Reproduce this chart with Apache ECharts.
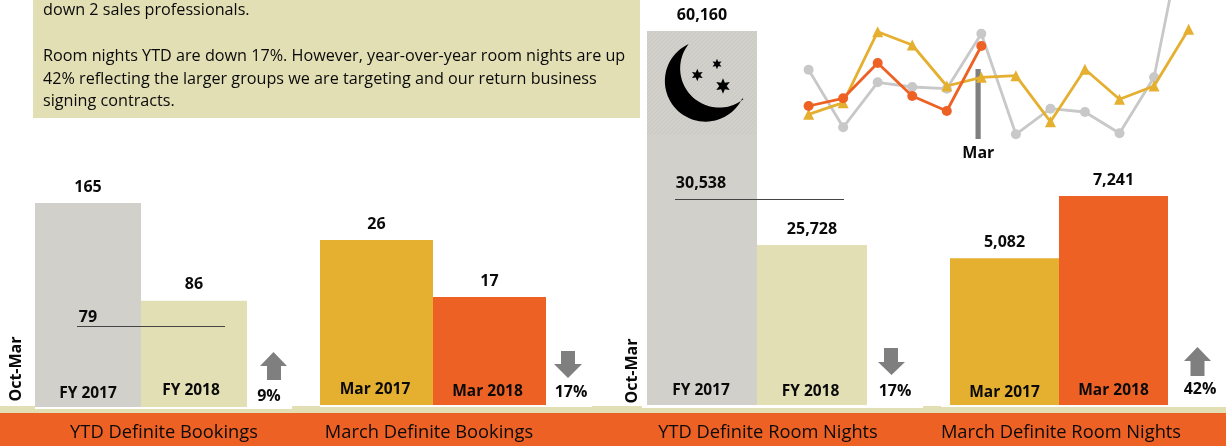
<!DOCTYPE html>
<html><head><meta charset="utf-8">
<style>html,body{margin:0;padding:0;background:#fff}#c{width:1226px;height:446px}</style>
<script src="https://cdn.jsdelivr.net/npm/echarts@6/dist/echarts.min.js"></script>
</head><body><div id="c"></div>
<script>
// ---- data ----
const ytdBookingCats = ['FY 2017','FY 2018'];
const ytdBookingVals = [165,86];
const marBookingCats = ['Mar 2017','Mar 2018'];
const marBookingVals = [26,17];
const ytdNightCats = ['FY 2017','FY 2018'];
const ytdNightVals = [60160,25728];
const marNightCats = ['Mar 2017','Mar 2018'];
const marNightVals = [5082,7241];
const months = ['Oct','Nov','Dec','Jan','Feb','Mar','Apr','May','Jun','Jul','Aug','Sep'];
const nightsFY16 = [5606,1631,4736,4412,4295,8090,1148,2915,2687,1217,5082,16970];
const nightsFY17 = [2528,3329,8228,7310,4481,5082,5192,2018,5633,3563,4481,8393];
const nightsFY18 = [3101,3632,6068,3791,2756,7241];
const footerTitles = ['YTD Definite Bookings','March Definite Bookings','YTD Definite Room Nights','March Definite Room Nights'];
const noteLines = ['down 2 sales professionals.','Room nights YTD are down 17%. However, year-over-year room nights are up','42% reflecting the larger groups we are targeting and our return business','signing contracts.'];
const changeLabels = ['9%','17%','17%','42%'];
const refLabels = ['79','30,538'];

// ---- style ----
const GRAY='#d1d0cb', CREAM='#e2dfb5', GOLD='#e5af30', ORANGE='#ee6125', ARROW='#7f7f7f', INK='#0a0a0a';
const FONT='"Open Sans", sans-serif';
const panels = [
 {cats:ytdBookingCats, vals:ytdBookingVals, colors:[GRAY,CREAM], left:35, width:212, top:203, bottom:407, margin:5, lift:[0,3], nudge:[0,6]},
 {cats:marBookingCats, vals:marBookingVals, colors:[GOLD,ORANGE], left:320, width:226, top:240, bottom:405, margin:5, lift:[2,0], nudge:[3,4]},
 {cats:ytdNightCats, vals:ytdNightVals, colors:[GRAY,CREAM], left:647, width:220, top:31, bottom:405, margin:5, lift:[1,0], nudge:[2,3]},
 {cats:marNightCats, vals:marNightVals, colors:[GOLD,ORANGE], left:950, width:218, top:196, bottom:405, margin:4, lift:[0,2], nudge:[0,0]}
];
const grids=[],xAxes=[],yAxes=[],series=[];
panels.forEach((p,i)=>{
  grids.push({left:p.left,width:p.width,top:p.top,height:p.bottom-p.top,outerBoundsMode:'none'});
  const tag=k=>({padding:[0,p.nudge[k],p.lift[k],0],fontFamily:FONT,fontWeight:'bold',fontSize:15.5,color:INK});
  xAxes.push({type:'category',gridIndex:i,data:p.cats,axisLine:{show:false},axisTick:{show:false},
    axisLabel:{inside:true,margin:p.margin,interval:0,color:INK,fontFamily:FONT,fontWeight:'bold',fontSize:15.5,
      formatter:(v,idx)=>'{l'+idx+'|'+v+'}',rich:{l0:tag(0),l1:tag(1)}},z:5});
  yAxes.push({type:'value',gridIndex:i,min:0,max:Math.max(...p.vals),show:false,splitLine:{show:false}});
  series.push({type:'bar',xAxisIndex:i,yAxisIndex:i,barWidth:'100%',silent:true,
    data:p.vals.map((v,k)=>({value:v,itemStyle:{color:p.colors[k]}})),
    label:{show:true,position:'top',distance:8,color:INK,fontFamily:FONT,fontWeight:'bold',fontSize:16,
      formatter:o=>o.value.toLocaleString('en-US')}});
});
// line chart
const LI=panels.length;
grids.push({left:808.6,width:380,top:-100,height:240,outerBoundsMode:'none'});
xAxes.push({type:'category',gridIndex:LI,data:months,boundaryGap:false,axisLine:{show:false},axisTick:{show:false},
  axisLabel:{margin:5,color:INK,fontFamily:FONT,fontWeight:'bold',fontSize:16,padding:[0,6,0,0],
    interval:(i,v)=>v==='Mar',showMinLabel:false,showMaxLabel:false}});
yAxes.push({type:'value',gridIndex:LI,min:755,max:17315,show:false,splitLine:{show:false}});
const lineSer=(d,c,sym,size,z)=>({type:'line',xAxisIndex:LI,yAxisIndex:LI,data:d,symbol:sym,symbolSize:size,z,silent:true,
  lineStyle:{color:c,width:2.8},itemStyle:{color:c},clip:true});
series.push(lineSer(nightsFY16,'#c8c8c8','circle',10,3));
series.push(lineSer(nightsFY17,GOLD,'triangle',11,4));
series.push(lineSer(nightsFY18,ORANGE,'circle',10,5));

// ---- annotations ----
const rect=(x,y,w,h,fill,z)=>({type:'rect',shape:{x,y,width:w,height:h},style:{fill},z:z||0,silent:true});
const txt=(x,y,t,o)=>({type:'text',x,y,z:20,silent:true,style:Object.assign({text:t,fill:INK,font:'16px '+FONT,textAlign:'center',textVerticalAlign:'middle'},o||{})});
const arrowUp=(l,r,sl,sr,t,hb,b)=>({type:'polygon',z:20,silent:true,shape:{points:[[(l+r)/2,t],[r,hb],[sr,hb],[sr,b],[sl,b],[sl,hb],[l,hb]]},style:{fill:ARROW}});
const arrowDn=(l,r,sl,sr,t,hb,b)=>({type:'polygon',z:20,silent:true,shape:{points:[[(l+r)/2,b],[r,hb],[sr,hb],[sr,t],[sl,t],[sl,hb],[l,hb]]},style:{fill:ARROW}});
const star=(cx,cy,R,r0)=>{const pts=[];for(let i=0;i<12;i++){const a=-Math.PI/2+i*Math.PI/6,q=i%2?r0:R;pts.push([cx+q*Math.cos(a),cy+q*Math.sin(a)]);}
  return {type:'polygon',z:21,silent:true,shape:{points:pts},style:{fill:'#000'}};};
const moon=()=>{
  const A=[688.7,44],B=[743.7,99.3],C1=[705.5,81],C2=[719.3,68.4],pts=[],n=48;
  const R1=Math.hypot(A[0]-C1[0],A[1]-C1[1]),R2=Math.hypot(A[0]-C2[0],A[1]-C2[1]);
  const ang=(P,C)=>Math.atan2(P[1]-C[1],P[0]-C[0]);
  let a0=ang(A,C1),a1=ang(B,C1); while(a1>a0)a1-=2*Math.PI;
  for(let i=0;i<=n;i++){const a=a0+(a1-a0)*i/n;pts.push([C1[0]+R1*Math.cos(a),C1[1]+R1*Math.sin(a)]);}
  a0=ang(B,C2);a1=ang(A,C2); while(a1<a0)a1+=2*Math.PI;
  for(let i=0;i<=n;i++){const a=a0+(a1-a0)*i/n;pts.push([C2[0]+R2*Math.cos(a),C2[1]+R2*Math.sin(a)]);}
  return {type:'polygon',z:21,silent:true,shape:{points:pts},style:{fill:'#000'}};
};
const hatch=document.createElement('canvas');hatch.width=4;hatch.height=4;
{const g=hatch.getContext('2d');g.fillStyle=GRAY;g.fillRect(0,0,4,4);g.strokeStyle='#c9c8c2';g.lineWidth=1;g.beginPath();g.moveTo(0,4);g.lineTo(4,0);g.stroke();}

const boldBlack={font:'bold 16px '+FONT};
const graphics=[
  rect(33,0,607,118,CREAM),
  rect(0,406,1226,7,CREAM),
  rect(35,406,257,3,'#fff'), rect(320,406,272,1,'#fff'), rect(642,406,281,2,'#fff'), rect(941,406,285,1,'#fff'),
  rect(0,413,1226,33,ORANGE),
  rect(975.5,69,5.2,70,ARROW,1),
  {type:'rect',z:10,silent:true,shape:{x:647,y:31,width:110,height:104},style:{fill:{image:hatch,repeat:'repeat'}}},
  moon(),
  star(697.3,75,6.2,3), star(717,64,5.2,2.5), star(723,86,7.8,3.7),
  {type:'line',z:20,silent:true,shape:{x1:77,y1:326.5,x2:225,y2:326.5},style:{stroke:'#444',lineWidth:1}},
  {type:'line',z:20,silent:true,shape:{x1:675,y1:199.5,x2:844,y2:199.5},style:{stroke:'#444',lineWidth:1}},
  txt(88,317,refLabels[0],boldBlack), txt(701,183,refLabels[1],boldBlack),
  arrowUp(260,287,267,281,352,366,380), arrowDn(554,582,561,575,351,364,378),
  arrowDn(878,905,884,898,348,362,375), arrowUp(1184,1211,1190.5,1204.5,347,361,376),
  txt(269,396,changeLabels[0],boldBlack), txt(571,392,changeLabels[1],boldBlack),
  txt(895,391,changeLabels[2],boldBlack), txt(1200,389,changeLabels[3],boldBlack),
  {type:'text',x:16,y:369,rotation:Math.PI/2,z:20,silent:true,style:{text:'Oct-Mar',fill:INK,font:'bold 16px '+FONT,textAlign:'center',textVerticalAlign:'middle'}},
  {type:'text',x:632,y:371,rotation:Math.PI/2,z:20,silent:true,style:{text:'Oct-Mar',fill:INK,font:'bold 16px '+FONT,textAlign:'center',textVerticalAlign:'middle'}}
];
[10,56,79,101].forEach((y,i)=>graphics.push(txt(43,y,noteLines[i],{textAlign:'left',font:'16.2px '+FONT})));

const footerX=[164,429,768,1061];
const chart=echarts.init(document.getElementById('c'),null,{renderer:'canvas'});
chart.setOption({
  animation:false,backgroundColor:'#fff',
  title:footerTitles.map((t,i)=>({text:t,left:footerX[i]-5,top:419,textAlign:'center',textStyle:{color:INK,fontFamily:FONT,fontWeight:'normal',fontSize:18.3}})),
  grid:grids,xAxis:xAxes,yAxis:yAxes,series,graphic:{elements:graphics}
});
</script></body></html>
